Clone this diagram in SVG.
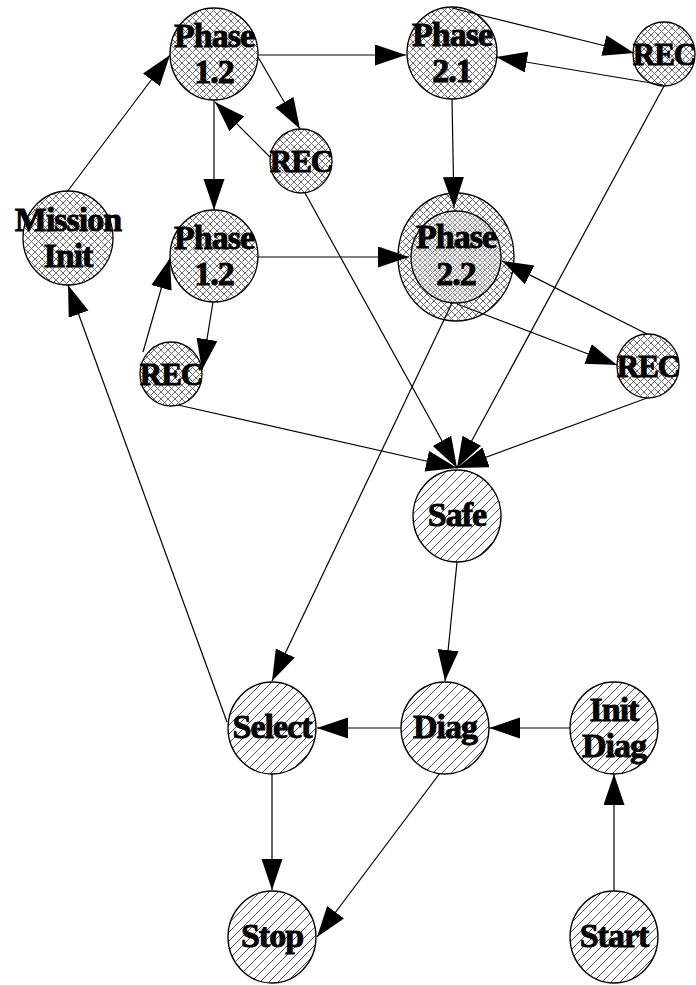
<svg xmlns="http://www.w3.org/2000/svg" width="696" height="985" viewBox="0 0 696 985">
  <defs>
    <!-- cross hatch for mission phase states -->
    <pattern id="cross" patternUnits="userSpaceOnUse" width="7" height="7">
      <rect width="7" height="7" fill="#ffffff"/>
      <path d="M0,0 L7,7 M7,0 L0,7" stroke="#6e6e6e" stroke-width="1"/>
    </pattern>
    <!-- denser cross hatch for the inner ring of the double state -->
    <pattern id="crossDense" patternUnits="userSpaceOnUse" width="5" height="5">
      <rect width="5" height="5" fill="#eeeeee"/>
      <path d="M0,0 L5,5 M5,0 L0,5" stroke="#8a8a8a" stroke-width="0.9"/>
    </pattern>
    <!-- single diagonal hatch for ground / safe states -->
    <pattern id="diag" patternUnits="userSpaceOnUse" width="9" height="9">
      <rect width="9" height="9" fill="#ffffff"/>
      <path d="M-1,10 L10,-1 M-1,1 L1,-1 M8,10 L10,8" stroke="#444444" stroke-width="0.9"/>
    </pattern>
    <marker id="arrow" markerUnits="userSpaceOnUse" markerWidth="32" markerHeight="22" refX="31" refY="10.5" orient="auto">
      <path d="M0,0 L31,10.5 L0,21 Z" fill="#000"/>
    </marker>
  </defs>
  <style>
    .node { stroke: #000; stroke-width: 1.3; }
    .cross { fill: url(#cross); }
    .dense { fill: url(#crossDense); }
    .hatch { fill: url(#diag); }
    .lbl { font-family: "Liberation Serif", "Times New Roman", serif; font-weight: bold; font-size: 34px; fill: #000; stroke: #000; stroke-width: 0.9; text-anchor: middle; letter-spacing: -1px; }
    .rec { font-size: 31px; }
    .edges line { stroke: #000; stroke-width: 1.2; fill: none; marker-end: url(#arrow); }
  </style>

  <rect width="696" height="985" fill="#ffffff"/>

  <g id="phase12a">
    <ellipse class="node cross" cx="214" cy="54" rx="44" ry="46"/>
    <text class="lbl" x="214" y="47">Phase</text>
    <text class="lbl" x="214" y="83">1.2</text>
  </g>
  <g id="phase21">
    <ellipse class="node cross" cx="452" cy="53" rx="45" ry="46"/>
    <text class="lbl" x="452" y="46">Phase</text>
    <text class="lbl" x="452" y="82">2.1</text>
  </g>
  <g id="rec1">
    <ellipse class="node cross" cx="301" cy="161" rx="31" ry="32"/>
    <text class="lbl rec" x="301" y="172">REC</text>
  </g>
  <g id="rec2">
    <ellipse class="node cross" cx="664" cy="54" rx="31" ry="32"/>
    <text class="lbl rec" x="664" y="65">REC</text>
  </g>
  <g id="missionInit">
    <ellipse class="node cross" cx="68" cy="238" rx="45" ry="47"/>
    <text class="lbl" x="68" y="231">Mission</text>
    <text class="lbl" x="68" y="267">Init</text>
  </g>
  <g id="phase12b">
    <ellipse class="node cross" cx="214" cy="256" rx="44" ry="46"/>
    <text class="lbl" x="214" y="249">Phase</text>
    <text class="lbl" x="214" y="285">1.2</text>
  </g>
  <g id="phase22">
    <ellipse class="node cross" cx="456" cy="257" rx="58" ry="64"/>
    <ellipse class="node dense" cx="456" cy="257" rx="45" ry="46"/>
    <text class="lbl" x="456" y="248">Phase</text>
    <text class="lbl" x="456" y="285">2.2</text>
  </g>
  <g id="rec3">
    <ellipse class="node cross" cx="171" cy="374" rx="31" ry="32"/>
    <text class="lbl rec" x="171" y="385">REC</text>
  </g>
  <g id="rec4">
    <ellipse class="node cross" cx="648" cy="366" rx="31" ry="32"/>
    <text class="lbl rec" x="648" y="377">REC</text>
  </g>
  <g id="safe">
    <ellipse class="node hatch" cx="457" cy="516" rx="44" ry="46"/>
    <text class="lbl" x="457" y="526">Safe</text>
  </g>
  <g id="select">
    <ellipse class="node hatch" cx="272" cy="728" rx="44" ry="46"/>
    <text class="lbl" x="272" y="738">Select</text>
  </g>
  <g id="diag">
    <ellipse class="node hatch" cx="445" cy="728" rx="44" ry="46"/>
    <text class="lbl" x="445" y="738">Diag</text>
  </g>
  <g id="initDiag">
    <ellipse class="node hatch" cx="614" cy="728" rx="44" ry="46"/>
    <text class="lbl" x="614" y="721">Init</text>
    <text class="lbl" x="614" y="757">Diag</text>
  </g>
  <g id="stop">
    <ellipse class="node hatch" cx="272" cy="937" rx="44" ry="46"/>
    <text class="lbl" x="272" y="947">Stop</text>
  </g>
  <g id="start">
    <ellipse class="node hatch" cx="614" cy="937" rx="44" ry="46"/>
    <text class="lbl" x="614" y="947">Start</text>
  </g>

  <g id="connectors" class="edges">
    <line x1="67" y1="192" x2="170" y2="55"/>
    <line x1="258" y1="55" x2="406" y2="55"/>
    <line x1="258" y1="57" x2="300" y2="129"/>
    <line x1="270" y1="157" x2="215" y2="102"/>
    <line x1="214" y1="100" x2="214" y2="210"/>
    <line x1="305" y1="193" x2="457" y2="468"/>
    <line x1="452" y1="8" x2="634" y2="53"/>
    <line x1="663" y1="85" x2="496" y2="57"/>
    <line x1="664" y1="86" x2="457" y2="468"/>
    <line x1="452" y1="99" x2="454" y2="208"/>
    <line x1="258" y1="257" x2="409" y2="257"/>
    <line x1="647" y1="334" x2="502" y2="261"/>
    <line x1="457" y1="304" x2="617" y2="365"/>
    <line x1="647" y1="398" x2="457" y2="468"/>
    <line x1="452" y1="303" x2="272" y2="681"/>
    <line x1="213" y1="302" x2="202" y2="370"/>
    <line x1="143" y1="352" x2="170" y2="258"/>
    <line x1="178" y1="405" x2="457" y2="468"/>
    <line x1="227" y1="722" x2="68" y2="285"/>
    <line x1="457" y1="562" x2="445" y2="681"/>
    <line x1="401" y1="728" x2="317" y2="728"/>
    <line x1="570" y1="728" x2="489" y2="728"/>
    <line x1="614" y1="891" x2="614" y2="774"/>
    <line x1="272" y1="774" x2="272" y2="890"/>
    <line x1="440" y1="773" x2="317" y2="937"/>
  </g>
</svg>
